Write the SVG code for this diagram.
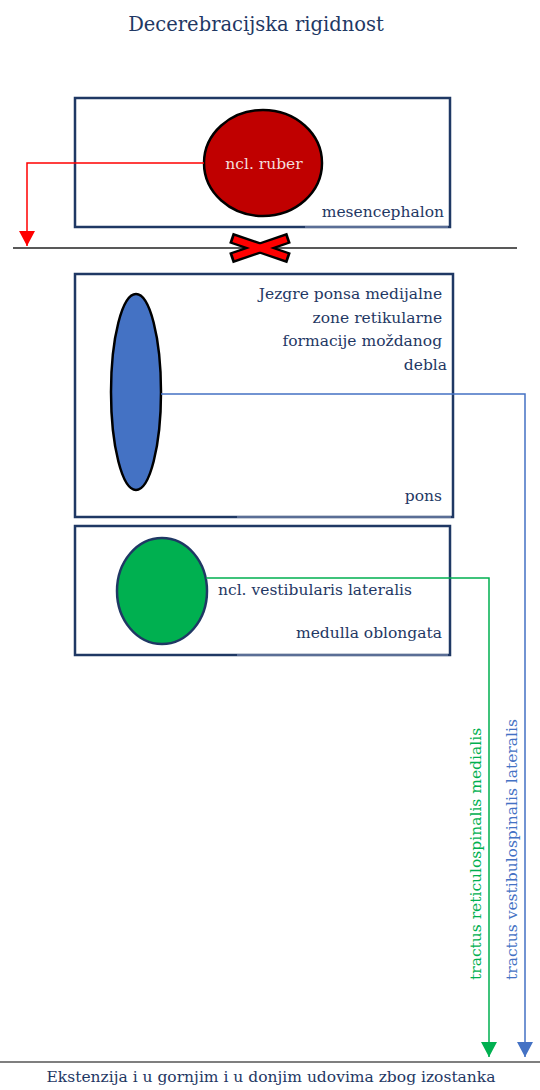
<svg xmlns="http://www.w3.org/2000/svg" width="540" height="1090" viewBox="0 0 540 1090">
  <style>
    text { font-family: "DejaVu Serif", "Liberation Serif", serif; fill: #1f3864; }
    .lbl { font-size: 15.5px; }
    .title { font-size: 19.5px; }
    .box { fill: #ffffff; stroke: #1f3864; stroke-width: 2.5; }
    .edge { stroke: #5a6e96; stroke-width: 2; }
    .conn { fill: none; stroke-width: 1.5; }
  </style>
  <defs>
    <marker id="arrowRed" markerUnits="userSpaceOnUse" markerWidth="16" markerHeight="16" viewBox="0 0 16 16" refX="15" refY="8" orient="auto">
      <path d="M0,0 L15,8 L0,16 Z" fill="#ff0000"/>
    </marker>
    <marker id="arrowGreen" markerUnits="userSpaceOnUse" markerWidth="16" markerHeight="16" viewBox="0 0 16 16" refX="15" refY="8" orient="auto">
      <path d="M0,0 L15,8 L0,16 Z" fill="#00b050"/>
    </marker>
    <marker id="arrowBlue" markerUnits="userSpaceOnUse" markerWidth="16" markerHeight="16" viewBox="0 0 16 16" refX="15" refY="8" orient="auto">
      <path d="M0,0 L15,8 L0,16 Z" fill="#4472c4"/>
    </marker>
  </defs>

  <rect width="540" height="1090" fill="#ffffff"/>

  <text class="title" x="256" y="31" text-anchor="middle">Decerebracijska rigidnost</text>

  <!-- mesencephalon -->
  <g id="mesencephalon">
    <rect class="box" x="75" y="98" width="375" height="129"/>
    <line class="edge" x1="305" y1="227" x2="448" y2="227"/>
    <text class="lbl" x="444" y="217" text-anchor="end">mesencephalon</text>
  </g>
  <g id="ncl-ruber">
    <ellipse cx="263" cy="163" rx="59" ry="53" fill="#c00000" stroke="#000000" stroke-width="2.5"/>
    <text class="lbl" x="264" y="169" text-anchor="middle" style="fill:#f2dcdb">ncl. ruber</text>
  </g>

  <!-- cut level -->
  <g id="cut">
    <line x1="13" y1="248" x2="517" y2="248" stroke="#222222" stroke-width="1.5"/>
    <line x1="231" y1="238" x2="289" y2="258" stroke="#000000" stroke-width="11"/>
    <line x1="231" y1="258" x2="289" y2="238" stroke="#000000" stroke-width="11"/>
    <line x1="233.5" y1="239" x2="286.5" y2="257" stroke="#ff0000" stroke-width="6.5"/>
    <line x1="233.5" y1="257" x2="286.5" y2="239" stroke="#ff0000" stroke-width="6.5"/>
  </g>

  <!-- pons -->
  <g id="pons">
    <rect class="box" x="75" y="274" width="378" height="243"/>
    <line class="edge" x1="237" y1="517" x2="451" y2="517"/>
    <text class="lbl" text-anchor="end">
      <tspan x="447" y="299">Jezgre ponsa medijalne</tspan>
      <tspan x="447" y="323">zone retikularne</tspan>
      <tspan x="447" y="346">formacije moždanog</tspan>
      <tspan x="447" y="370">debla</tspan>
    </text>
    <text class="lbl" x="442" y="501" text-anchor="end">pons</text>
  </g>
  <g id="reticular-nuclei">
    <ellipse cx="136" cy="392" rx="25" ry="98" fill="#4472c4" stroke="#000000" stroke-width="2.5"/>
  </g>

  <!-- medulla oblongata -->
  <g id="medulla">
    <rect class="box" x="75" y="526" width="375" height="129"/>
    <line class="edge" x1="237" y1="655" x2="448" y2="655"/>
    <text class="lbl" x="218" y="595">ncl. vestibularis lateralis</text>
    <text class="lbl" x="442" y="638" text-anchor="end">medulla oblongata</text>
  </g>
  <g id="ncl-vestibularis">
    <ellipse cx="162" cy="591" rx="45" ry="53" fill="#00b050" stroke="#1f3864" stroke-width="2.5"/>
  </g>

  <!-- tracts -->
  <g id="connectors">
    <path class="conn" d="M204,163 H27 V246" stroke="#ff0000" marker-end="url(#arrowRed)"/>
    <path class="conn" d="M161,394 H525 V1057" stroke="#4472c4" marker-end="url(#arrowBlue)"/>
    <path class="conn" d="M206,578 H489 V1057" stroke="#00b050" marker-end="url(#arrowGreen)"/>
  </g>

  <g id="tract-labels">
    <text class="lbl" transform="translate(481,980) rotate(-90)" style="fill:#00b050">tractus reticulospinalis medialis</text>
    <text class="lbl" transform="translate(517,980) rotate(-90)" style="fill:#4472c4">tractus vestibulospinalis lateralis</text>
  </g>

  <!-- outcome -->
  <g id="outcome">
    <line x1="0" y1="1062" x2="540" y2="1062" stroke="#555555" stroke-width="1.5"/>
    <text class="lbl" x="271" y="1082" text-anchor="middle">Ekstenzija i u gornjim i u donjim udovima zbog izostanka</text>
  </g>
</svg>
